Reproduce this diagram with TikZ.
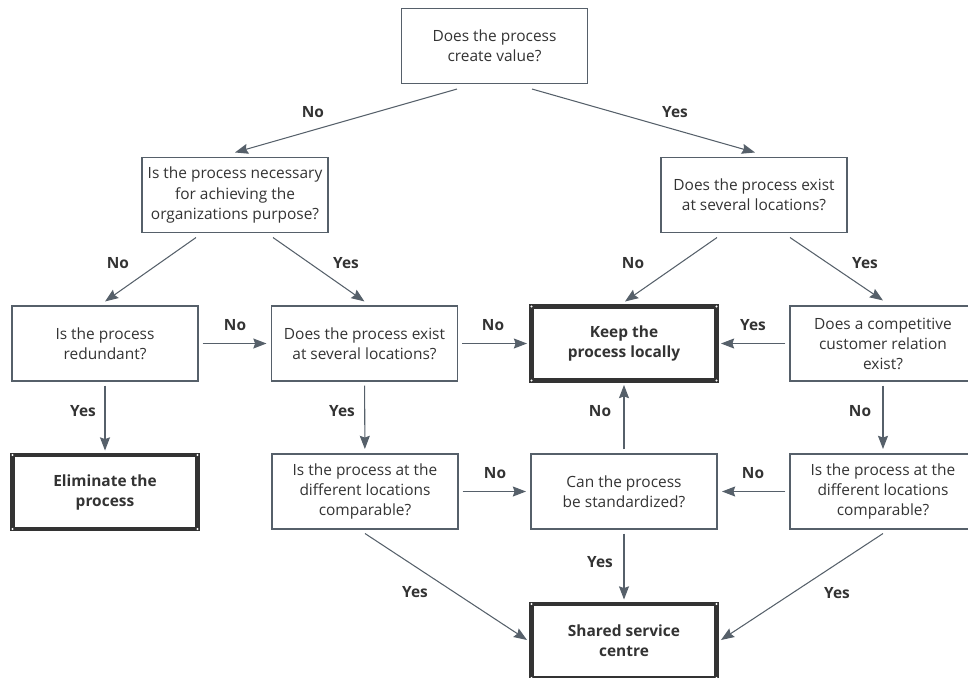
\documentclass[tikz,border=0pt]{standalone}
\usepackage{fontspec}
\setmainfont{Open Sans}
\usepackage{tikz}
\usetikzlibrary{arrows.meta}

\definecolor{inkgray}{HTML}{333333}
\definecolor{linegray}{HTML}{56606A}

\begin{document}
\begin{tikzpicture}
[ x=0.02cm, y=-0.02cm, text=inkgray
, font=\fontsize{8.8}{11.4}\selectfont
, question/.style={rectangle, draw=linegray, line width=0.6pt, minimum width=3.72cm, minimum height=1.5cm, inner sep=1pt, align=center}
, outcome/.style={rectangle, draw=inkgray, line width=2.8pt, outer sep=0pt, minimum width=3.7cm, minimum height=1.48cm, inner sep=1pt, align=center, font=\fontsize{8.8}{11.4}\selectfont\bfseries}
, answer/.style={font=\fontsize{8.8}{11.4}\selectfont\bfseries}
, flow/.style={draw=linegray, line width=0.6pt, -{Stealth[length=7.5pt, width=5.7pt, inset=1pt]}}
, straight/.style={flow, shorten <=0.08cm, shorten >=0.09cm}
]
\useasboundingbox (0,0) rectangle (968,677);
% First row:
\node (value) [question] at (494.5,46) {Does the process\\create value?};
% Second row:
\node (necessary) [question] at (235,195) {Is the process necessary\\for achieving the\\organizations purpose?};
\node (severalR) [question] at (754,195) {Does the process exist\\at several locations?};
% Third row:
\node (redundant) [question] at (105,343.5) {Is the process\\redundant?};
\node (severalL) [question] at (364.5,343.5) {Does the process exist\\at several locations?};
\node (keep) [outcome] at (624,343.5) {Keep the\\process locally};
\node (competitive) [question] at (883,343.5) {Does a competitive\\customer relation\\exist?};
% Fourth row:
\node (eliminate) [outcome] at (105,492) {Eliminate the\\process};
\node (comparableL) [question] at (365,491.5) {Is the process at the\\different locations\\comparable?};
\node (standard) [question] at (624,491.5) {Can the process\\be standardized?};
\node (comparableR) [question] at (883,491.5) {Is the process at the\\different locations\\comparable?};
% Last row:
\node (shared) [outcome] at (624,641) {Shared service\\centre};

\foreach \outc in {keep,eliminate,shared}
  \foreach \corn in {north west,north east,south west,south east}
    \fill [white] (\outc.\corn) circle (0.6pt);

% Slanted connectors:
\draw [flow] ([shift={(-37.5,5)}]value.south) -- ([shift={(0,-4.5)}]necessary.north);
\draw [flow] ([shift={(37.5,5)}]value.south) -- ([shift={(1,-4.5)}]severalR.north);
\draw [flow] ([shift={(-39,4.5)}]necessary.south) -- ([shift={(0,-4)}]redundant.north);
\draw [flow] ([shift={(38,4.5)}]necessary.south) -- ([shift={(0,-4)}]severalL.north);
\draw [flow] ([shift={(-37,4.5)}]severalR.south) -- ([shift={(1,-5)}]keep.north);
\draw [flow] ([shift={(36,4.5)}]severalR.south) -- ([shift={(0,-5)}]competitive.north);
\draw [flow] ([shift={(0,4)}]comparableL.south) -- ([shift={(-4.5,-1)}]shared.west);
\draw [flow] ([shift={(0,4)}]comparableR.south) -- ([shift={(4.5,-1)}]shared.east);
% Straight connectors:
\draw [straight] (redundant) -- (severalL);
\draw [straight] (severalL) -- (keep);
\draw [straight] (competitive) -- (keep);
\draw [straight] (comparableL) -- (standard);
\draw [straight] (comparableR) -- (standard);
\draw [straight] (redundant) -- (eliminate);
\draw [straight] (severalL) -- (comparableL);
\draw [straight] (competitive) -- (comparableR);
\draw [straight] (standard) -- (keep);
\draw [straight] (standard) -- (shared);

% Answers:
\node (a1) [answer] at (313,112) {No};
\node (a2) [answer] at (675,112) {Yes};
\node (a3) [answer] at (118,263) {No};
\node (a4) [answer] at (346,263) {Yes};
\node (a5) [answer] at (633,263) {No};
\node (a6) [answer] at (865,263) {Yes};
\node (a7) [answer] at (235,325) {No};
\node (a8) [answer] at (493,325) {No};
\node (a9) [answer] at (753,325) {Yes};
\node (a10) [answer] at (83,411) {Yes};
\node (a11) [answer] at (342,411) {Yes};
\node (a12) [answer] at (600,411) {No};
\node (a13) [answer] at (860,411) {No};
\node (a14) [answer] at (495,473) {No};
\node (a15) [answer] at (753,473) {No};
\node (a16) [answer] at (600,562) {Yes};
\node (a17) [answer] at (415,592) {Yes};
\node (a18) [answer] at (837,593) {Yes};
\end{tikzpicture}
\end{document}
